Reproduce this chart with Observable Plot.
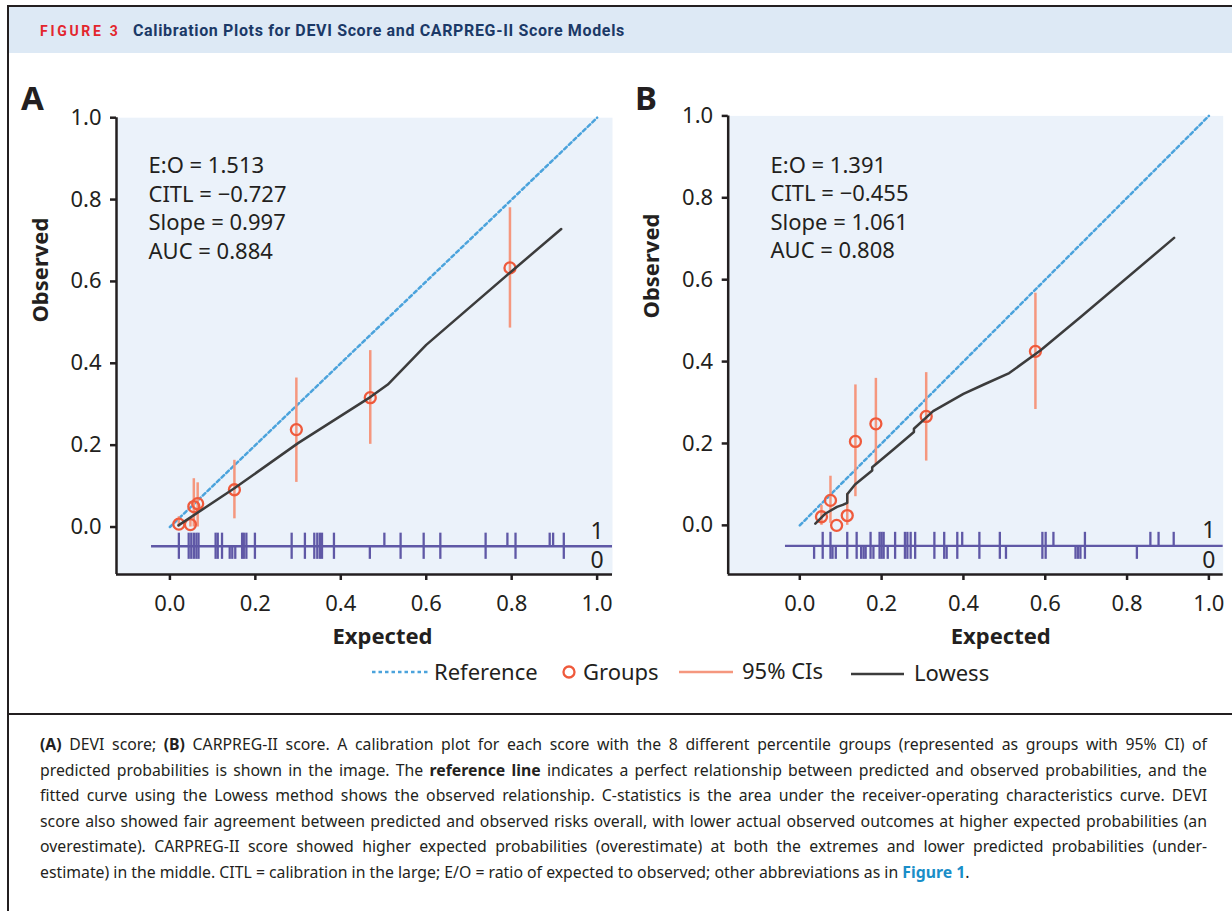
<!DOCTYPE html>
<html><head><meta charset="utf-8">
<script src="https://cdn.jsdelivr.net/npm/d3@7"></script>
<script src="https://cdn.jsdelivr.net/npm/@observablehq/plot@0.6"></script>
<style>
body{margin:0;width:1232px;height:911px;overflow:hidden;background:#fff;position:relative;font-family:"Noto Sans",sans-serif;color:#231f20;}
.abs{position:absolute;}
#border{left:7px;top:5px;width:1240px;height:1000px;border-left:2px solid #231f20;border-top:2px solid #231f20;}
#band{left:9px;top:7px;width:1230px;height:46px;background:#dde9f5;}
#fig{left:40px;top:7px;height:46px;line-height:48px;font-family:Roboto,sans-serif;font-weight:bold;font-size:14px;letter-spacing:2.7px;color:#e3262d;}
#title{left:133px;top:7px;height:46px;line-height:48px;font-family:Roboto,sans-serif;font-weight:bold;font-size:16px;letter-spacing:0.65px;color:#1b3967;}
.letter{font-family:"Noto Sans",sans-serif;font-weight:bold;font-size:33px;top:75px;}
#sep{left:9px;top:713px;width:1230px;height:2px;background:#231f20;}
#caption{left:40px;top:732px;width:1167px;font-family:"Noto Sans",sans-serif;font-size:15.8px;line-height:25.5px;color:#231f20;}
#caption div{text-align:justify;text-align-last:justify;white-space:nowrap;}
#caption div.last{text-align-last:left;}
#caption a{color:#1a8ec8;font-weight:bold;text-decoration:none;}
.leg{font-size:22px;top:656px;line-height:32px;}
</style></head>
<body>
<div id="border" class="abs"></div>
<div id="band" class="abs"></div>
<div id="fig" class="abs">FIGURE 3</div>
<div id="title" class="abs">Calibration Plots for DEVI Score and CARPREG-II Score Models</div>
<div class="abs letter" style="left:21px">A</div>
<div class="abs letter" style="left:635px">B</div>
<div id="panelA" class="abs" style="left:0;top:60px"></div>
<div id="panelB" class="abs" style="left:616px;top:60px"></div>
<div id="legend"></div>
<div id="sep" class="abs"></div>
<div id="caption" class="abs">
<div><b>(A)</b> DEVI score; <b>(B)</b> CARPREG-II score. A calibration plot for each score with the 8 different percentile groups (represented as groups with 95% CI) of</div>
<div>predicted probabilities is shown in the image. The <b>reference line</b> indicates a perfect relationship between predicted and observed probabilities, and the</div>
<div>fitted curve using the Lowess method shows the observed relationship. C-statistics is the area under the receiver-operating characteristics curve. DEVI</div>
<div>score also showed fair agreement between predicted and observed risks overall, with lower actual observed outcomes at higher expected probabilities (an</div>
<div>overestimate). CARPREG-II score showed higher expected probabilities (overestimate) at both the extremes and lower predicted probabilities (under-</div>
<div class="last">estimate) in the middle. CITL = calibration in the large; E/O = ratio of expected to observed; other abbreviations as in <a>Figure 1</a>.</div>
</div>
<script>
// ---------- data ----------
const axisTicks = [0, 0.2, 0.4, 0.6, 0.8, 1.0];
const referenceLine = [0, 1];
const legendLabels = ["Reference", "Groups", "95% CIs", "Lowess"];
const rugLabels = ["1", "0"];

// Panel A: DEVI score
const statsA = ["E:O = 1.513", "CITL = \u22120.727", "Slope = 0.997", "AUC = 0.884"];
const groupsA_x  = [0.021, 0.048, 0.056, 0.065, 0.151, 0.296, 0.469, 0.796];
const groupsA_y  = [0.007, 0.006, 0.050, 0.057, 0.091, 0.238, 0.316, 0.633];
const groupsA_lo = [0.000, 0.000, 0.000, 0.000, 0.020, 0.109, 0.202, 0.486];
const groupsA_hi = [0.025, 0.020, 0.118, 0.108, 0.163, 0.364, 0.431, 0.780];
const lowessA_x = [0.020, 0.150, 0.300, 0.470, 0.510, 0.600, 0.800, 0.916];
const lowessA_y = [0.004, 0.094, 0.205, 0.318, 0.348, 0.445, 0.625, 0.728];
const rugA_event   = [0.021,0.044,0.050,0.056,0.062,0.067,0.107,0.112,0.122,0.169,0.173,0.179,0.199,0.285,0.316,0.338,0.345,0.351,0.356,0.384,0.502,0.540,0.594,0.633,0.739,0.790,0.809,0.889,0.897,0.922];
const rugA_noEvent = [0.021,0.044,0.050,0.056,0.062,0.067,0.107,0.112,0.122,0.140,0.146,0.153,0.169,0.173,0.179,0.199,0.285,0.316,0.338,0.345,0.351,0.356,0.384,0.468,0.540,0.594,0.633,0.739,0.809,0.922];

// Panel B: CARPREG-II score
const statsB = ["E:O = 1.391", "CITL = \u22120.455", "Slope = 1.061", "AUC = 0.808"];
const groupsB_x  = [0.053, 0.075, 0.090, 0.116, 0.136, 0.186, 0.309, 0.576];
const groupsB_y  = [0.021, 0.061, 0.000, 0.024, 0.205, 0.248, 0.266, 0.425];
const groupsB_lo = [0.000, 0.005, 0.000, 0.000, 0.070, 0.148, 0.157, 0.283];
const groupsB_hi = [0.049, 0.120, 0.000, 0.078, 0.343, 0.359, 0.373, 0.567];
const lowessB_x = [0.038,0.063,0.091,0.105,0.116,0.116,0.135,0.177,0.177,0.231,0.279,0.279,0.326,0.400,0.450,0.512,0.588,0.688,0.915];
const lowessB_y = [0.004,0.029,0.045,0.050,0.055,0.076,0.100,0.134,0.142,0.187,0.228,0.236,0.279,0.321,0.344,0.372,0.427,0.510,0.702];
const rugB_event   = [0.056,0.075,0.116,0.139,0.173,0.195,0.200,0.205,0.233,0.257,0.263,0.271,0.282,0.329,0.353,0.385,0.397,0.439,0.489,0.593,0.601,0.620,0.697,0.857,0.877,0.914];
const rugB_noEvent = [0.035,0.056,0.075,0.080,0.088,0.116,0.139,0.150,0.156,0.161,0.173,0.180,0.195,0.200,0.205,0.215,0.233,0.257,0.263,0.271,0.282,0.329,0.353,0.359,0.385,0.439,0.489,0.504,0.593,0.601,0.674,0.680,0.686,0.697,0.824];

// ---------- style ----------
const INK = "#231f20", REF = "#4ba3dc", DOT = "#ef5a3c", CI = "#f5977e", LOW = "#3c3c3c", RUG = "#5f58a6", BG = "#ebf2fa";

function panel(c) {
  const groups = c.gx.map((x, i) => ({x, y: c.gy[i], lo: c.glo[i], hi: c.ghi[i]}));
  const lowess = c.lx.map((x, i) => ({x, y: c.ly[i]}));
  const fmt = d3.format(".1f");
  return Plot.plot({
    width: 616, height: 600,
    marginTop: c.mt, marginBottom: 86, marginLeft: c.ml, marginRight: c.mr,
    x: {domain: c.xd, label: null},
    y: {domain: c.yd, label: null},
    style: {fontFamily: "Noto Sans", fontSize: "22px", color: INK, background: "transparent", overflow: "visible"},
    marks: [
      Plot.frame({fill: BG, stroke: "none"}),
      Plot.axisY(axisTicks, {tickSize: 6, tickPadding: 9, tickFormat: fmt, fontSize: 22, stroke: INK, fill: INK, strokeWidth: 2.5, label: null}),
      Plot.axisX(axisTicks, {tickSize: 6, tickPadding: 15, tickFormat: fmt, fontSize: 22, stroke: INK, fill: INK, strokeWidth: 2.5, label: null}),
      Plot.ruleY([c.yd[0]], {stroke: INK, strokeWidth: 2.5}),
      Plot.ruleX([c.xd[0]], {stroke: INK, strokeWidth: 2.5}),
      Plot.line(referenceLine, {x: d => d, y: d => d, stroke: REF, strokeWidth: 2.5, strokeDasharray: "3.5,3"}),
      Plot.ruleY([c.rugBase], {x1: c.rugStart, x2: c.xd[1], stroke: RUG, strokeWidth: 2.3}),
      Plot.ruleX(c.rug1, {x: d => d, y1: c.rugBase, y2: c.rugBase + c.rugLen, stroke: RUG, strokeWidth: 2.3}),
      Plot.ruleX(c.rug0, {x: d => d, y1: c.rugBase, y2: c.rugBase - c.rugLen, stroke: RUG, strokeWidth: 2.3}),
      Plot.ruleX(groups, {x: "x", y1: "lo", y2: "hi", stroke: CI, strokeWidth: 2.5}),
      Plot.dot(groups, {x: "x", y: "y", r: 5.5, stroke: DOT, strokeWidth: 2.3, fill: "none"}),
      Plot.line(lowess, {x: "x", y: "y", stroke: LOW, strokeWidth: 2.5}),
      Plot.text([c.stats.join("\n")], {frameAnchor: "top-left", textAnchor: "start", lineAnchor: "top", lineHeight: 1.3, dx: c.sdx, dy: c.sdy, fontSize: 22, fill: INK}),
      Plot.text(rugLabels, {x: referenceLine[1], y: (d, i) => i === 0 ? c.rugBase + c.rugLen + 0.003 : c.rugBase - c.rugLen - 0.004, text: d => d, fontSize: 23, fill: INK, lineAnchor: "middle"}),
      Plot.text(["Observed"], {frameAnchor: "left", rotate: -90, dx: -76, dy: c.ody, fontWeight: "bold", fontSize: 22, fill: INK}),
      Plot.text(["Expected"], {frameAnchor: "bottom", lineAnchor: "middle", dx: c.edx, dy: 62, fontWeight: "bold", fontSize: 22, fill: INK})
    ]
  });
}

document.getElementById("panelA").append(panel({
  xd: [-0.125, 1.036], yd: [-0.116, 1.0], mt: 57.2, ml: 116, mr: 4,
  gx: groupsA_x, gy: groupsA_y, glo: groupsA_lo, ghi: groupsA_hi,
  lx: lowessA_x, ly: lowessA_y, rug1: rugA_event, rug0: rugA_noEvent,
  rugBase: -0.047, rugLen: 0.032, rugStart: -0.043,
  stats: statsA, sdx: 32, sdy: 35, ody: -23.5, edx: 18
}));
document.getElementById("panelB").append(panel({
  xd: [-0.175, 1.035], yd: [-0.12, 1.0], mt: 55.4, ml: 111.7, mr: 9.3,
  gx: groupsB_x, gy: groupsB_y, glo: groupsB_lo, ghi: groupsB_hi,
  lx: lowessB_x, ly: lowessB_y, rug1: rugB_event, rug0: rugB_noEvent,
  rugBase: -0.050, rugLen: 0.033, rugStart: -0.035,
  stats: statsB, sdx: 42.3, sdy: 36.5, ody: -26.7, edx: 25
}));

// ---------- legend ----------
const leg = document.getElementById("legend");
const swatches = [
  `<svg width="56" height="10"><line x1="0" y1="5" x2="56" y2="5" stroke="${REF}" stroke-width="2.5" stroke-dasharray="3.5,3"/></svg>`,
  `<svg width="16" height="16"><circle cx="8" cy="8" r="5.5" fill="none" stroke="${DOT}" stroke-width="2.3"/></svg>`,
  `<svg width="54" height="10"><line x1="0" y1="5" x2="54" y2="5" stroke="${CI}" stroke-width="2.5"/></svg>`,
  `<svg width="53" height="10"><line x1="0" y1="5" x2="53" y2="5" stroke="${LOW}" stroke-width="2.5"/></svg>`
];
const swLeft = [372, 561, 679, 851], swTop = [667, 664, 667, 669];
const txLeft = [434, 583, 742, 914], txTop = [655, 655, 654, 656];
legendLabels.forEach((lab, i) => {
  const s = document.createElement("div");
  s.className = "abs"; s.style.left = swLeft[i] + "px"; s.style.top = swTop[i] + "px";
  s.style.lineHeight = "0";
  s.innerHTML = swatches[i];
  leg.append(s);
  const t = document.createElement("div");
  t.className = "abs leg"; t.style.left = txLeft[i] + "px"; t.style.top = txTop[i] + "px";
  t.textContent = lab;
  leg.append(t);
});
</script>
</body></html>
